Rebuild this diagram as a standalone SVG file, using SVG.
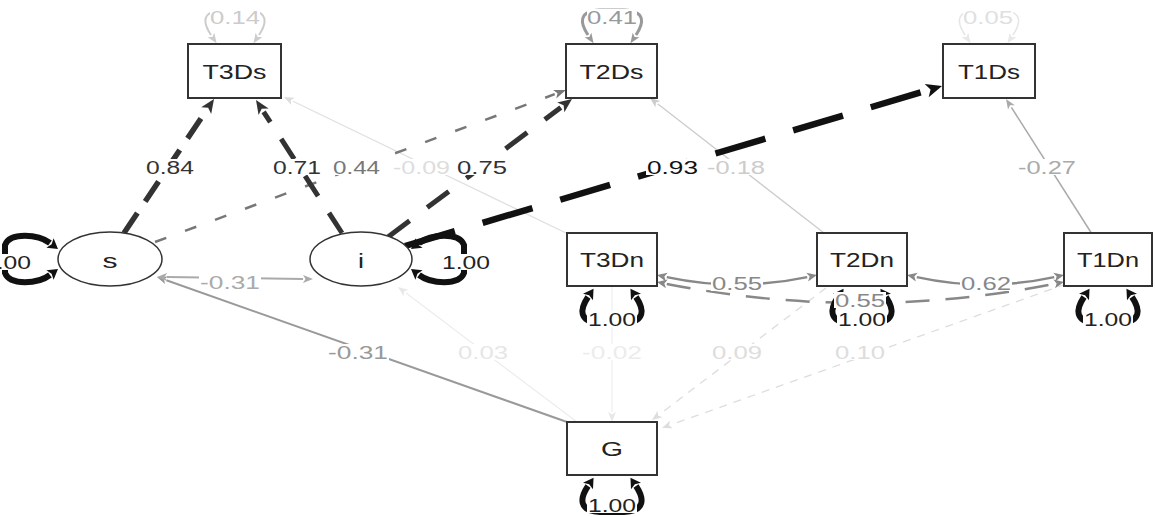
<svg xmlns="http://www.w3.org/2000/svg" width="1155" height="517" viewBox="0 0 1155 517">
<style>
.node rect{fill:#fff;stroke:#333;stroke-width:2}
.node ellipse{fill:#fff;stroke:#333;stroke-width:1.5}
.nl{font-family:"Liberation Sans",Arial,sans-serif;font-size:20px;fill:#222;text-anchor:middle}
.el{font-family:"Liberation Sans",Arial,sans-serif;font-size:18px;text-anchor:middle}
.bg{fill:#fff}
#connectors path{fill:none}
</style>
<defs>
<marker id="aK16" markerUnits="userSpaceOnUse" markerWidth="16" markerHeight="14" refX="0" refY="7" orient="auto-start-reverse" overflow="visible"><path d="M0,0 L16,7 L0,14 L4,7 z" fill="#111"/></marker>
<marker id="aK" markerUnits="userSpaceOnUse" markerWidth="14" markerHeight="12" refX="0" refY="6" orient="auto-start-reverse" overflow="visible"><path d="M0,0 L14,6 L0,12 L3.5,6 z" fill="#333"/></marker>
<marker id="aL" markerUnits="userSpaceOnUse" markerWidth="10" markerHeight="12" refX="0" refY="6" orient="auto-start-reverse" overflow="visible"><path d="M0,0 L10,6 L0,12 L2,6 z" fill="#111"/></marker>
<marker id="a77" markerUnits="userSpaceOnUse" markerWidth="12" markerHeight="9" refX="0" refY="4.5" orient="auto-start-reverse" overflow="visible"><path d="M0,0 L12,4.5 L0,9 L3,4.5 z" fill="#777"/></marker>
<marker id="a88" markerUnits="userSpaceOnUse" markerWidth="10" markerHeight="9" refX="0" refY="4.5" orient="auto-start-reverse" overflow="visible"><path d="M0,0 L10,4.5 L0,9 L2.5,4.5 z" fill="#888"/></marker>
<marker id="a99" markerUnits="userSpaceOnUse" markerWidth="10" markerHeight="8" refX="0" refY="4" orient="auto-start-reverse" overflow="visible"><path d="M0,0 L10,4 L0,8 L2.5,4 z" fill="#999"/></marker>
<marker id="aAA" markerUnits="userSpaceOnUse" markerWidth="10" markerHeight="8" refX="0" refY="4" orient="auto-start-reverse" overflow="visible"><path d="M0,0 L10,4 L0,8 L2.5,4 z" fill="#aaa"/></marker>
<marker id="aCC" markerUnits="userSpaceOnUse" markerWidth="10" markerHeight="8" refX="0" refY="4" orient="auto-start-reverse" overflow="visible"><path d="M0,0 L10,4 L0,8 L2.5,4 z" fill="#ccc"/></marker>
<marker id="aDD" markerUnits="userSpaceOnUse" markerWidth="10" markerHeight="8" refX="0" refY="4" orient="auto-start-reverse" overflow="visible"><path d="M0,0 L10,4 L0,8 L2.5,4 z" fill="#ddd"/></marker>
<marker id="aEE" markerUnits="userSpaceOnUse" markerWidth="10" markerHeight="8" refX="0" refY="4" orient="auto-start-reverse" overflow="visible"><path d="M0,0 L10,4 L0,8 L2.5,4 z" fill="#e8e8e8"/></marker>
</defs>
<rect width="1155" height="517" fill="#fff"/>
<g id="connectors">
<path d="M566 233 L293 101.3" stroke="#e0e0e0" stroke-width="1.2" marker-end="url(#aDD)"/>
<path d="M824 233 L657.9 104.1" stroke="#ccc" stroke-width="1.3" marker-end="url(#aCC)"/>
<path d="M1092 234 L1011.4 107.4" stroke="#aaa" stroke-width="1.5" marker-end="url(#aAA)"/>
<path d="M577 422 L406 293" stroke="#ececec" stroke-width="1.2" marker-end="url(#aEE)"/>
<path d="M612 286 L612 412" stroke="#efefef" stroke-width="1.2" marker-end="url(#aEE)"/>
<path d="M826 288 L660 414" stroke="#ddd" stroke-width="1.3" stroke-dasharray="8 7" marker-end="url(#aDD)"/>
<path d="M1066 284 L671.4 424.6" stroke="#ddd" stroke-width="1.3" stroke-dasharray="8 7" marker-end="url(#aDD)"/>
<path d="M567 422 L166.4 280.3" stroke="#999" stroke-width="2" marker-end="url(#a99)"/>
<path d="M167 277.1 L303 278.9" stroke="#aaa" stroke-width="2" marker-start="url(#aAA)" marker-end="url(#aAA)"/>
<path d="M155 242 L554.7 94.2" stroke="#777" stroke-width="2.5" stroke-dasharray="12 20" marker-end="url(#a77)"/>
<path d="M124 233 L206.2 110.6" stroke="#333" stroke-width="5.5" stroke-dasharray="24 14" marker-end="url(#aK)"/>
<path d="M342 233 L263.6 111.8" stroke="#333" stroke-width="5" stroke-dasharray="24 20" marker-end="url(#aK)"/>
<path d="M388 237 L560.8 107.4" stroke="#333" stroke-width="5" stroke-dasharray="27 22" marker-end="url(#aK)"/>
<path d="M405 246 L926.7 90.6" stroke="#111" stroke-width="6.5" stroke-dasharray="52 29" marker-end="url(#aK16)"/>
<path d="M666.8 277.1 Q737 292 807.2 277.1" stroke="#888" stroke-width="2.5" marker-start="url(#a88)" marker-end="url(#a88)"/>
<path d="M916.8 277.1 Q985.5 292 1054.2 277.1" stroke="#888" stroke-width="2.5" marker-start="url(#a88)" marker-end="url(#a88)"/>
<path d="M666.8 283.9 Q860.5 322 1054.2 283.9" stroke="#888" stroke-width="2.5" stroke-dasharray="24 16" marker-start="url(#a88)" marker-end="url(#a88)"/>
<path d="M211 35 C203 23,201 11,223 10 L247 10 C269 11,267 23,259 35" stroke="#ccc" stroke-width="2" marker-start="url(#aCC)" marker-end="url(#aCC)"/>
<path d="M588 35 C580 23,578 11,600 10 L624 10 C646 11,644 23,636 35" stroke="#999" stroke-width="3" marker-start="url(#a99)" marker-end="url(#a99)"/>
<path d="M965 35 C957 23,955 11,977 10 L1001 10 C1023 11,1021 23,1013 35" stroke="#e5e5e5" stroke-width="1.5" marker-start="url(#aEE)" marker-end="url(#aEE)"/>
<path d="M50 243 C38 234,10 232,5 245 L5 273 C10 286,38 284,50 275" stroke="#111" stroke-width="6" marker-start="url(#aL)" marker-end="url(#aL)"/>
<path d="M419 243 C431 234,459 232,464 245 L464 273 C459 286,431 284,419 275" stroke="#111" stroke-width="6" marker-start="url(#aL)" marker-end="url(#aL)"/>
<path d="M588 297 C580 309,578 322,600 323 L624 323 C646 322,644 309,636 297" stroke="#111" stroke-width="6" marker-start="url(#aL)" marker-end="url(#aL)"/>
<path d="M838 297 C830 309,828 322,850 323 L874 323 C896 322,894 309,886 297" stroke="#111" stroke-width="6" marker-start="url(#aL)" marker-end="url(#aL)"/>
<path d="M1084 297 C1076 309,1074 322,1096 323 L1120 323 C1142 322,1140 309,1132 297" stroke="#111" stroke-width="6" marker-start="url(#aL)" marker-end="url(#aL)"/>
<path d="M588 486 C580 498,578 511,600 512 L624 512 C646 511,644 498,636 486" stroke="#111" stroke-width="6" marker-start="url(#aL)" marker-end="url(#aL)"/>
<g class="bg">
<rect x="145" y="159" width="50" height="16"/>
<rect x="272" y="159" width="50" height="16"/>
<rect x="332" y="159" width="49" height="16"/>
<rect x="392" y="159" width="59" height="16"/>
<rect x="456" y="159" width="52" height="16"/>
<rect x="646" y="159" width="53" height="16"/>
<rect x="706" y="159" width="60" height="16"/>
<rect x="1017" y="159" width="60" height="16"/>
<rect x="210" y="9" width="50" height="16"/>
<rect x="587" y="9" width="50" height="16"/>
<rect x="963" y="9" width="50" height="16"/>
<rect x="199" y="274" width="62" height="16"/>
<rect x="327" y="344" width="62" height="16"/>
<rect x="457" y="344" width="52" height="16"/>
<rect x="581" y="344" width="62" height="16"/>
<rect x="711" y="344" width="52" height="16"/>
<rect x="834" y="344" width="52" height="16"/>
<rect x="711" y="275" width="52" height="16"/>
<rect x="834" y="292" width="52" height="16"/>
<rect x="960" y="275" width="52" height="16"/>
<rect x="-18" y="254" width="50" height="16"/>
<rect x="441" y="254" width="50" height="16"/>
<rect x="587" y="311" width="50" height="16"/>
<rect x="837" y="311" width="50" height="16"/>
<rect x="1083" y="311" width="50" height="16"/>
<rect x="587" y="497" width="50" height="16"/>
</g>
<text class="el" x="170" y="173.5" fill="#333" textLength="48" lengthAdjust="spacingAndGlyphs">0.84</text>
<text class="el" x="297" y="173.5" fill="#333" textLength="48" lengthAdjust="spacingAndGlyphs">0.71</text>
<text class="el" x="356.5" y="173.5" fill="#777" textLength="47" lengthAdjust="spacingAndGlyphs">0.44</text>
<text class="el" x="421.5" y="173.5" fill="#ddd" textLength="57" lengthAdjust="spacingAndGlyphs">-0.09</text>
<text class="el" x="482" y="173.5" fill="#333" textLength="50" lengthAdjust="spacingAndGlyphs">0.75</text>
<text class="el" x="672.5" y="173.5" fill="#111" textLength="51" lengthAdjust="spacingAndGlyphs">0.93</text>
<text class="el" x="736" y="173.5" fill="#ccc" textLength="58" lengthAdjust="spacingAndGlyphs">-0.18</text>
<text class="el" x="1047" y="173.5" fill="#aaa" textLength="58" lengthAdjust="spacingAndGlyphs">-0.27</text>
<text class="el" x="235" y="23.5" fill="#ccc" textLength="50" lengthAdjust="spacingAndGlyphs">0.14</text>
<text class="el" x="612" y="23.5" fill="#999" textLength="50" lengthAdjust="spacingAndGlyphs">0.41</text>
<text class="el" x="988" y="23.5" fill="#e0e0e0" textLength="50" lengthAdjust="spacingAndGlyphs">0.05</text>
<text class="el" x="230" y="288.5" fill="#aaa" textLength="60" lengthAdjust="spacingAndGlyphs">-0.31</text>
<text class="el" x="358" y="358.5" fill="#999" textLength="60" lengthAdjust="spacingAndGlyphs">-0.31</text>
<text class="el" x="483" y="358.5" fill="#e6e6e6" textLength="50" lengthAdjust="spacingAndGlyphs">0.03</text>
<text class="el" x="612" y="358.5" fill="#ececec" textLength="60" lengthAdjust="spacingAndGlyphs">-0.02</text>
<text class="el" x="737" y="358.5" fill="#ddd" textLength="50" lengthAdjust="spacingAndGlyphs">0.09</text>
<text class="el" x="860" y="358.5" fill="#ddd" textLength="50" lengthAdjust="spacingAndGlyphs">0.10</text>
<text class="el" x="737" y="289.5" fill="#888" textLength="50" lengthAdjust="spacingAndGlyphs">0.55</text>
<text class="el" x="860" y="306.5" fill="#888" textLength="50" lengthAdjust="spacingAndGlyphs">0.55</text>
<text class="el" x="986" y="289.5" fill="#888" textLength="50" lengthAdjust="spacingAndGlyphs">0.62</text>
<text class="el" x="7" y="268.5" fill="#222" textLength="48" lengthAdjust="spacingAndGlyphs">1.00</text>
<text class="el" x="466" y="268.5" fill="#222" textLength="48" lengthAdjust="spacingAndGlyphs">1.00</text>
<text class="el" x="612" y="325.5" fill="#222" textLength="48" lengthAdjust="spacingAndGlyphs">1.00</text>
<text class="el" x="862" y="325.5" fill="#222" textLength="48" lengthAdjust="spacingAndGlyphs">1.00</text>
<text class="el" x="1108" y="325.5" fill="#222" textLength="48" lengthAdjust="spacingAndGlyphs">1.00</text>
<text class="el" x="612" y="511.5" fill="#222" textLength="48" lengthAdjust="spacingAndGlyphs">1.00</text>
</g>
<g id="node-T3Ds" class="node"><rect x="188" y="44" width="93" height="54"/><text class="nl" x="234.5" y="79" textLength="64" lengthAdjust="spacingAndGlyphs">T3Ds</text></g>
<g id="node-T2Ds" class="node"><rect x="566" y="44" width="91" height="54"/><text class="nl" x="611.5" y="79" textLength="64" lengthAdjust="spacingAndGlyphs">T2Ds</text></g>
<g id="node-T1Ds" class="node"><rect x="943" y="44" width="92" height="54"/><text class="nl" x="989" y="79" textLength="62" lengthAdjust="spacingAndGlyphs">T1Ds</text></g>
<g id="node-s" class="node"><ellipse cx="110" cy="259" rx="52" ry="27"/><text class="nl" x="110" y="268" textLength="15" lengthAdjust="spacingAndGlyphs">s</text></g>
<g id="node-i" class="node"><ellipse cx="361" cy="259" rx="51" ry="27"/><text class="nl" x="361" y="268" textLength="6" lengthAdjust="spacingAndGlyphs">i</text></g>
<g id="node-T3Dn" class="node"><rect x="567" y="233" width="90" height="53"/><text class="nl" x="612" y="267" textLength="64" lengthAdjust="spacingAndGlyphs">T3Dn</text></g>
<g id="node-T2Dn" class="node"><rect x="817" y="233" width="90" height="53"/><text class="nl" x="862" y="267" textLength="64" lengthAdjust="spacingAndGlyphs">T2Dn</text></g>
<g id="node-T1Dn" class="node"><rect x="1064" y="233" width="88" height="53"/><text class="nl" x="1108" y="267" textLength="62" lengthAdjust="spacingAndGlyphs">T1Dn</text></g>
<g id="node-G" class="node"><rect x="567" y="422" width="90" height="53"/><text class="nl" x="612" y="456" textLength="22" lengthAdjust="spacingAndGlyphs">G</text></g>
</svg>
